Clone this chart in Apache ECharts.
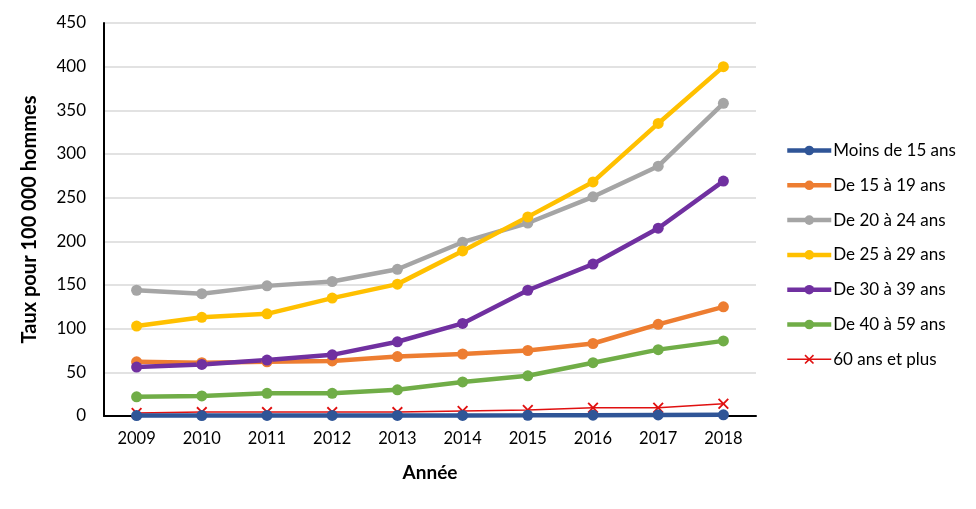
<!DOCTYPE html>
<html><head><meta charset="utf-8">
<script src="https://cdn.jsdelivr.net/npm/echarts@6/dist/echarts.min.js"></script>
<style>html,body{margin:0;padding:0;background:#fff}#c{width:976px;height:509px}</style>
</head><body><div id="c"></div>
<script>
const years = ['2009','2010','2011','2012','2013','2014','2015','2016','2017','2018'];
const moins15 = [0.5,0.5,0.6,0.6,0.6,0.7,0.8,1.0,1.2,1.3];
const de15a19 = [62,61,62,63,68,71,75,83,105,125];
const de20a24 = [144,140,149,154,168,199,221,251,286,358];
const de25a29 = [103,113,117,135,151,189,228,268,335,400];
const de30a39 = [56,59,64,70,85,106,144,174,215,269];
const de40a59 = [22,23,26,26,30,39,46,61,76,86];
const plus60 = [3.4,4.5,4.5,4.5,4.5,5.7,6.9,9.5,9.5,14];
const yTicks = [0,50,100,150,200,250,300,350,400,450];
const names = ['Moins de 15 ans','De 15 à 19 ans','De 20 à 24 ans','De 25 à 29 ans','De 30 à 39 ans','De 40 à 59 ans','60 ans et plus'];

const FONT = 'Lato';
const X_PATH = 'path://M0,1.2L1.2,0L5,3.8L8.8,0L10,1.2L6.2,5L10,8.8L8.8,10L5,6.2L1.2,10L0,8.8L3.8,5Z';
function s(name, data, color, opts) {
  return Object.assign({
    name, type:'line', data, symbol:'circle', symbolSize:11,
    lineStyle:{color, width:4.5}, itemStyle:{color}, z:2
  }, opts||{});
}
const chart = echarts.init(document.getElementById('c'));
chart.setOption({
  animation:false,
  textStyle:{fontFamily:FONT},
  grid:{left:104, right:220, top:23, bottom:93},
  legend:{
    orient:'vertical', left:785, top:142, padding:0, itemGap:17.8, itemWidth:44, itemHeight:12,
    textStyle:{fontFamily:FONT, fontSize:17, color:'#000', padding:[0,0,0,-3]},
    data:names.map((n,i)=>({name:n, lineStyle:{width: i===6 ? 1.5 : 4.5}}))
  },
  xAxis:{
    type:'category', data:years, boundaryGap:true,
    name:'Année', nameLocation:'middle', nameGap:47,
    nameTextStyle:{fontFamily:FONT, fontSize:19, fontWeight:'bold', color:'#000'},
    axisLine:{lineStyle:{color:'#000', width:2}},
    axisTick:{show:false},
    axisLabel:{fontFamily:FONT, fontSize:16.5, color:'#000', margin:14}
  },
  yAxis:{
    type:'value', min:0, max:450, interval:50,
    name:'Taux pour 100 000 hommes', nameLocation:'middle', nameGap:64, nameRotate:90,
    nameTextStyle:{fontFamily:FONT, fontSize:20, fontWeight:'bold', color:'#000'},
    axisLine:{show:true, lineStyle:{color:'#000', width:2}},
    axisTick:{show:false},
    splitLine:{lineStyle:{color:'#d9d9d9', width:1.5}},
    axisLabel:{fontFamily:FONT, fontSize:17, color:'#000', margin:18,
      formatter:v=> yTicks.includes(v) ? String(v) : ''}
  },
  series:[
    s(names[0], moins15, '#2f5597', {z:5}),
    s(names[1], de15a19, '#ed7d31'),
    s(names[2], de20a24, '#a5a5a5'),
    s(names[3], de25a29, '#ffc000'),
    s(names[4], de30a39, '#7030a0'),
    s(names[5], de40a59, '#70ad47'),
    s(names[6], plus60, '#e01010', {symbol:X_PATH, symbolSize:11, lineStyle:{color:'#e01010', width:1.5}, z:4})
  ]
});
</script></body></html>
